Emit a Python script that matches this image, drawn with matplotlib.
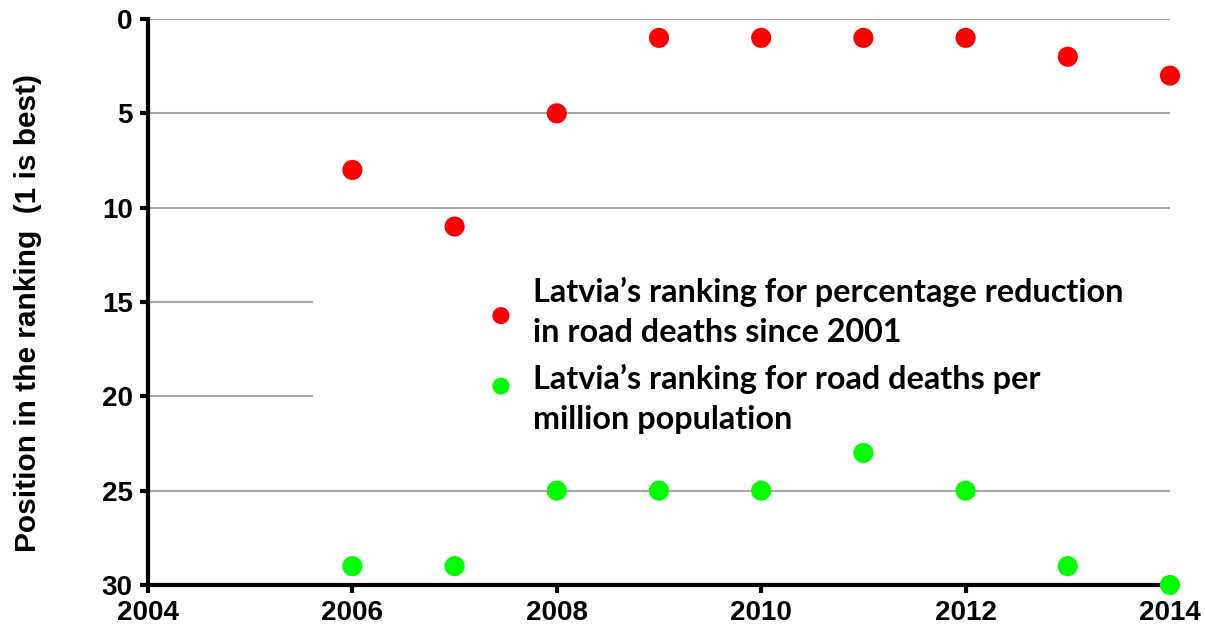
import matplotlib.pyplot as plt
import matplotlib.transforms as mtransforms
from matplotlib.patches import Rectangle
from matplotlib.legend_handler import HandlerPathCollection

years = [2006, 2007, 2008, 2009, 2010, 2011, 2012, 2013, 2014]
rank_reduction = [8, 11, 5, 1, 1, 1, 1, 2, 3]
rank_per_million = [29, 29, 25, 25, 25, 23, 25, 29, 30]

label_red = "Latvia\u2019s ranking for percentage reduction\nin road deaths since 2001"
label_green = "Latvia\u2019s ranking for road deaths per\nmillion population"

plt.rcParams['font.family'] = 'Liberation Sans'
plt.rcParams['font.weight'] = 'bold'

fig = plt.figure(figsize=(12.05, 6.33), dpi=100)
ax = fig.add_axes([148 / 1205, 1 - 585 / 633, (1170 - 148) / 1205, (585 - 19) / 633])

sc_red = ax.scatter(years, rank_reduction, s=210, color='#ff0000', edgecolors='none',
                    zorder=3, clip_on=False, label=label_red)
sc_green = ax.scatter(years, rank_per_million, s=210, color='#00ff00', edgecolors='none',
                      zorder=3, clip_on=False, label=label_green)

ax.set_xlim(2004, 2014)
ax.set_ylim(30, 0)
ax.set_xticks(range(2004, 2015, 2))
ax.set_yticks(range(0, 31, 5))

ax.set_axisbelow(True)
ax.yaxis.grid(True, color='#a6a6a6', linewidth=1.5)
ax.xaxis.grid(False)

for side in ['top', 'right']:
    ax.spines[side].set_visible(False)
for side in ['left', 'bottom']:
    ax.spines[side].set_linewidth(3)

ax.tick_params(axis='both', direction='out', length=6, width=3, pad=5, labelsize=20)

ax.set_ylabel("Position in the ranking  (1 is best)", fontweight='bold', fontsize=21.5)
ax.yaxis.set_label_coords(-0.104, 0.48)

# white box behind the legend hides part of the gridlines
trans = mtransforms.blended_transform_factory(ax.transAxes, ax.transData)
ax.add_patch(Rectangle((0.161, 12), 0.9, 11.5, transform=trans, facecolor='white',
                       edgecolor='none', zorder=1, clip_on=False))

# green legend dot sits a bit higher than the middle of its entry
leg = ax.legend(loc='upper left', bbox_to_anchor=(0.301, 0.596), frameon=False,
                prop={'family': 'Lato', 'weight': 'bold', 'size': 23.3},
                markerscale=0.85, handletextpad=0.5, labelspacing=0.5,
                handlelength=1.0,
                handler_map={sc_green: HandlerPathCollection(yoffsets=[1.1])})
for t in leg.get_texts():
    t.set_linespacing(1.48)
leg.set_zorder(5)

fig.savefig('out.png', dpi=100)
